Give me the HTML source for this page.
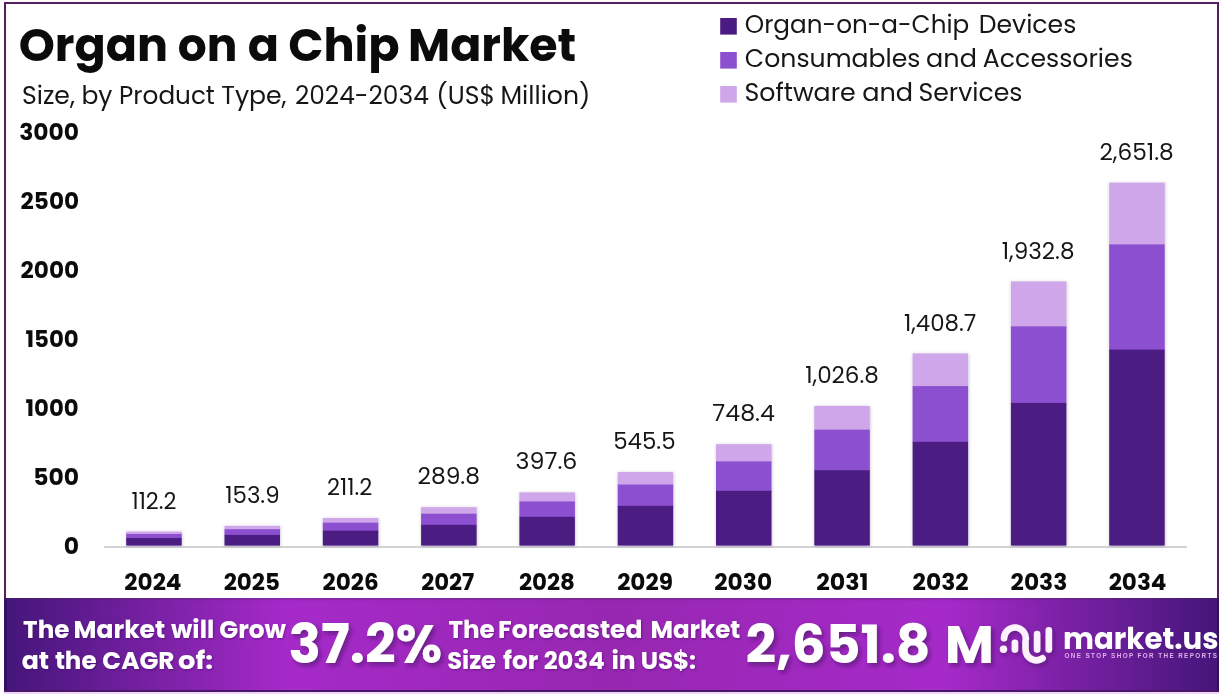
<!DOCTYPE html>
<html lang="en"><head><meta charset="utf-8"><title>Organ on a Chip Market</title>
<style>
html,body{margin:0;padding:0;background:#fff;}
body{width:1222px;height:694px;overflow:hidden;position:relative;font-family:"Liberation Sans",Arial,sans-serif;}
#frame{position:absolute;left:4px;top:2px;width:1211px;height:686.3px;border:2px solid #54205f;background:#fff;}
#footer{position:absolute;left:4px;top:597.9px;width:1215px;height:92.6px;box-shadow:inset 0 2.2px 0 rgba(70,40,90,.26);background:linear-gradient(90deg,#34105f 0,#34105f 2.6px,#45167a 2.7px,#a62ac9 23.2%,#9727b1 50%,#a62ac9 77.5%,#45167a 1212.5px,#34105f 1212.6px,#34105f 100%);}
#footer:after{content:"";position:absolute;left:0;right:0;bottom:-1.8px;height:1.9px;background:#4a1668;}
#tint{position:absolute;left:4px;top:692.3px;width:1215px;height:1.7px;background:#efd6fa;}
svg{position:absolute;left:0;top:0;}
svg text{font-family:"Liberation Sans",Arial,sans-serif;white-space:pre;}
</style></head><body>
<div id="frame"></div>
<div id="footer"></div>
<div id="tint"></div>
<svg width="1222" height="694" viewBox="0 0 1222 694">
<defs>
<filter id="bsh" x="-20%" y="-20%" width="150%" height="140%"><feDropShadow dx="0.4" dy="0.6" stdDeviation="1.8" flood-color="#4a3570" flood-opacity="0.32"/></filter>
<filter id="sh" x="-5%" y="-30%" width="110%" height="170%"><feDropShadow dx="1" dy="1.2" stdDeviation="1.2" flood-color="#3a0a5a" flood-opacity="0.45"/></filter>
<filter id="shb" x="-5%" y="-30%" width="112%" height="170%"><feDropShadow dx="2.5" dy="3" stdDeviation="2" flood-color="#3a0a5a" flood-opacity="0.55"/></filter>
<filter id="lsh" x="-20%" y="-20%" width="150%" height="150%"><feDropShadow dx="2" dy="2.5" stdDeviation="2" flood-color="#3a0a5a" flood-opacity="0.5"/></filter>
</defs>
<rect x="104.2" y="546.0" width="1082.8" height="2" fill="#d3d3d5"/>
<g filter="url(#bsh)">
<rect x="126.20" y="531.58" width="55.50" height="2.88" fill="#cfa6ea"/>
<rect x="126.20" y="533.97" width="55.50" height="4.56" fill="#8b4fcf"/>
<rect x="126.20" y="538.03" width="55.50" height="7.57" fill="#4b1a82"/>
</g>
<g filter="url(#bsh)">
<rect x="224.50" y="525.85" width="55.50" height="3.86" fill="#cfa6ea"/>
<rect x="224.50" y="529.21" width="55.50" height="6.23" fill="#8b4fcf"/>
<rect x="224.50" y="534.94" width="55.50" height="10.66" fill="#4b1a82"/>
</g>
<g filter="url(#bsh)">
<rect x="322.80" y="517.98" width="55.50" height="5.20" fill="#cfa6ea"/>
<rect x="322.80" y="522.68" width="55.50" height="8.51" fill="#8b4fcf"/>
<rect x="322.80" y="530.69" width="55.50" height="14.91" fill="#4b1a82"/>
</g>
<g filter="url(#bsh)">
<rect x="421.10" y="507.18" width="55.50" height="7.03" fill="#cfa6ea"/>
<rect x="421.10" y="513.71" width="55.50" height="11.64" fill="#8b4fcf"/>
<rect x="421.10" y="524.85" width="55.50" height="20.75" fill="#4b1a82"/>
</g>
<g filter="url(#bsh)">
<rect x="519.40" y="492.37" width="55.50" height="9.55" fill="#cfa6ea"/>
<rect x="519.40" y="501.42" width="55.50" height="15.94" fill="#8b4fcf"/>
<rect x="519.40" y="516.86" width="55.50" height="28.74" fill="#4b1a82"/>
</g>
<g filter="url(#bsh)">
<rect x="617.70" y="472.05" width="55.50" height="13.00" fill="#cfa6ea"/>
<rect x="617.70" y="484.55" width="55.50" height="21.83" fill="#8b4fcf"/>
<rect x="617.70" y="505.88" width="55.50" height="39.72" fill="#4b1a82"/>
</g>
<g filter="url(#bsh)">
<rect x="716.00" y="444.17" width="55.50" height="17.74" fill="#cfa6ea"/>
<rect x="716.00" y="461.41" width="55.50" height="29.91" fill="#8b4fcf"/>
<rect x="716.00" y="490.83" width="55.50" height="54.77" fill="#4b1a82"/>
</g>
<g filter="url(#bsh)">
<rect x="814.30" y="405.92" width="55.50" height="24.25" fill="#cfa6ea"/>
<rect x="814.30" y="429.66" width="55.50" height="41.01" fill="#8b4fcf"/>
<rect x="814.30" y="470.17" width="55.50" height="75.43" fill="#4b1a82"/>
</g>
<g filter="url(#bsh)">
<rect x="912.60" y="353.44" width="55.50" height="33.17" fill="#cfa6ea"/>
<rect x="912.60" y="386.11" width="55.50" height="56.23" fill="#8b4fcf"/>
<rect x="912.60" y="441.84" width="55.50" height="103.76" fill="#4b1a82"/>
</g>
<g filter="url(#bsh)">
<rect x="1010.90" y="281.43" width="55.50" height="45.41" fill="#cfa6ea"/>
<rect x="1010.90" y="326.34" width="55.50" height="77.11" fill="#8b4fcf"/>
<rect x="1010.90" y="402.95" width="55.50" height="142.65" fill="#4b1a82"/>
</g>
<g filter="url(#bsh)">
<rect x="1109.20" y="182.64" width="55.50" height="62.20" fill="#cfa6ea"/>
<rect x="1109.20" y="244.35" width="55.50" height="105.76" fill="#8b4fcf"/>
<rect x="1109.20" y="349.60" width="55.50" height="196.00" fill="#4b1a82"/>
</g>
<rect x="720.2" y="18.0" width="16.6" height="16.6" fill="#4b1a82"/>
<rect x="720.2" y="52.0" width="16.6" height="16.6" fill="#8b4fcf"/>
<rect x="720.2" y="86.0" width="16.6" height="16.6" fill="#cfa6ea"/>
<g id="logo" filter="url(#lsh)" fill="none" stroke="#fdf1ff" stroke-width="6.6" stroke-linecap="round" stroke-linejoin="round">
<path d="M1004.0 638.3 A10.9 10.9 0 1 1 1025.5 640.9 V649.3 A10.9 10.9 0 0 0 1042.6 658.3"/>
<path d="M1014.9 642.7 V649.6"/>
<path d="M1037.1 634.0 V649.6"/>
<path d="M1048.8 630.4 V649.6"/>
<circle cx="1003.5" cy="649.3" r="3.7" fill="#fdf1ff" stroke="none"/>
</g>
<text transform="translate(18.59 60.90) scale(1.0779 1)" font-size="47.15" font-weight="700" fill="#0b0b0b" stroke="#0b0b0b" stroke-width="0.70" stroke-linejoin="round">Organ </text>
<text transform="translate(177.31 60.90) scale(1.0401 1)" font-size="47.15" font-weight="700" fill="#0b0b0b" stroke="#0b0b0b" stroke-width="0.70" stroke-linejoin="round">on </text>
<text transform="translate(247.82 60.90) scale(1.0463 1)" font-size="47.15" font-weight="700" fill="#0b0b0b" stroke="#0b0b0b" stroke-width="0.70" stroke-linejoin="round">a </text>
<text transform="translate(288.11 60.90) scale(1.0689 1)" font-size="47.15" font-weight="700" fill="#0b0b0b" stroke="#0b0b0b" stroke-width="0.70" stroke-linejoin="round">Chip </text>
<text transform="translate(408.05 60.90) scale(1.0962 1)" font-size="47.15" font-weight="700" fill="#0b0b0b" stroke="#0b0b0b" stroke-width="0.70" stroke-linejoin="round">Market</text>
<text transform="translate(22.46 103.50) scale(0.9456 1)" font-size="25.52" font-weight="400" fill="#161616" stroke="#161616" stroke-width="0.25" stroke-linejoin="round">Size, </text>
<text transform="translate(81.73 103.50) scale(1.1229 1)" font-size="25.52" font-weight="400" fill="#161616" stroke="#161616" stroke-width="0.25" stroke-linejoin="round">by </text>
<text transform="translate(118.88 103.50) scale(1.0826 1)" font-size="25.52" font-weight="400" fill="#161616" stroke="#161616" stroke-width="0.25" stroke-linejoin="round">Product </text>
<text transform="translate(221.69 103.50) scale(1.0662 1)" font-size="25.52" font-weight="400" fill="#161616" stroke="#161616" stroke-width="0.25" stroke-linejoin="round">Type, </text>
<text transform="translate(294.75 103.50) scale(1.0998 1)" font-size="25.52" font-weight="400" fill="#161616" stroke="#161616" stroke-width="0.25" stroke-linejoin="round">2024-2034 </text>
<text transform="translate(437.52 103.50) scale(0.9521 1)" font-size="25.52" font-weight="400" fill="#161616" stroke="#161616" stroke-width="0.25" stroke-linejoin="round">(US$ </text>
<text transform="translate(500.19 103.50) scale(1.1014 1)" font-size="25.52" font-weight="400" fill="#161616" stroke="#161616" stroke-width="0.25" stroke-linejoin="round">Million)</text>
<text transform="translate(744.50 33.10) scale(1.1604 1)" font-size="25.83" font-weight="400" fill="#161616" stroke="#161616" stroke-width="0.25" stroke-linejoin="round">Organ-on-a-Chip </text>
<text transform="translate(978.61 33.10) scale(1.0602 1)" font-size="25.83" font-weight="400" fill="#161616" stroke="#161616" stroke-width="0.25" stroke-linejoin="round">Devices</text>
<text transform="translate(744.62 67.40) scale(1.1127 1)" font-size="25.83" font-weight="400" fill="#161616" stroke="#161616" stroke-width="0.25" stroke-linejoin="round">Consumables </text>
<text transform="translate(925.82 67.40) scale(1.1880 1)" font-size="25.83" font-weight="400" fill="#161616" stroke="#161616" stroke-width="0.25" stroke-linejoin="round">and </text>
<text transform="translate(983.74 67.40) scale(1.0660 1)" font-size="25.83" font-weight="400" fill="#161616" stroke="#161616" stroke-width="0.25" stroke-linejoin="round">Accessories</text>
<text transform="translate(744.73 101.20) scale(1.0896 1)" font-size="25.83" font-weight="400" fill="#161616" stroke="#161616" stroke-width="0.25" stroke-linejoin="round">Software </text>
<text transform="translate(862.12 101.20) scale(1.1798 1)" font-size="25.83" font-weight="400" fill="#161616" stroke="#161616" stroke-width="0.25" stroke-linejoin="round">and </text>
<text transform="translate(918.83 101.20) scale(1.0406 1)" font-size="25.83" font-weight="400" fill="#161616" stroke="#161616" stroke-width="0.25" stroke-linejoin="round">Services</text>
<text transform="translate(20.17 139.50) scale(1.0766 1)" font-size="24.48" font-weight="700" fill="#0b0b0b" stroke="#0b0b0b" stroke-width="0.50" stroke-linejoin="round">3000</text>
<text transform="translate(20.86 208.50) scale(1.0625 1)" font-size="24.48" font-weight="700" fill="#0b0b0b" stroke="#0b0b0b" stroke-width="0.50" stroke-linejoin="round">2500</text>
<text transform="translate(20.86 277.50) scale(1.0625 1)" font-size="24.48" font-weight="700" fill="#0b0b0b" stroke="#0b0b0b" stroke-width="0.50" stroke-linejoin="round">2000</text>
<text transform="translate(24.96 346.50) scale(0.9828 1)" font-size="24.48" font-weight="700" fill="#0b0b0b" stroke="#0b0b0b" stroke-width="0.50" stroke-linejoin="round">1500</text>
<text transform="translate(24.96 415.50) scale(0.9828 1)" font-size="24.48" font-weight="700" fill="#0b0b0b" stroke="#0b0b0b" stroke-width="0.50" stroke-linejoin="round">1000</text>
<text transform="translate(34.59 484.50) scale(1.0844 1)" font-size="24.48" font-weight="700" fill="#0b0b0b" stroke="#0b0b0b" stroke-width="0.50" stroke-linejoin="round">500</text>
<text transform="translate(63.91 553.50) scale(1.0882 1)" font-size="24.48" font-weight="700" fill="#0b0b0b" stroke="#0b0b0b" stroke-width="0.50" stroke-linejoin="round">0</text>
<text transform="translate(124.76 589.60) scale(1.0118 1)" font-size="24.69" font-weight="700" fill="#0b0b0b" stroke="#0b0b0b" stroke-width="0.50" stroke-linejoin="round">2024</text>
<text transform="translate(223.99 589.60) scale(1.0054 1)" font-size="24.69" font-weight="700" fill="#0b0b0b" stroke="#0b0b0b" stroke-width="0.50" stroke-linejoin="round">2025</text>
<text transform="translate(322.97 589.60) scale(1.0023 1)" font-size="24.69" font-weight="700" fill="#0b0b0b" stroke="#0b0b0b" stroke-width="0.50" stroke-linejoin="round">2026</text>
<text transform="translate(421.40 589.60) scale(0.9660 1)" font-size="24.69" font-weight="700" fill="#0b0b0b" stroke="#0b0b0b" stroke-width="0.50" stroke-linejoin="round">2027</text>
<text transform="translate(519.16 589.60) scale(1.0075 1)" font-size="24.69" font-weight="700" fill="#0b0b0b" stroke="#0b0b0b" stroke-width="0.50" stroke-linejoin="round">2028</text>
<text transform="translate(617.31 589.60) scale(1.0122 1)" font-size="24.69" font-weight="700" fill="#0b0b0b" stroke="#0b0b0b" stroke-width="0.50" stroke-linejoin="round">2029</text>
<text transform="translate(714.74 589.60) scale(1.0392 1)" font-size="24.69" font-weight="700" fill="#0b0b0b" stroke="#0b0b0b" stroke-width="0.50" stroke-linejoin="round">2030</text>
<text transform="translate(816.62 589.60) scale(0.9215 1)" font-size="24.69" font-weight="700" fill="#0b0b0b" stroke="#0b0b0b" stroke-width="0.50" stroke-linejoin="round">2031</text>
<text transform="translate(912.96 589.60) scale(1.0151 1)" font-size="24.69" font-weight="700" fill="#0b0b0b" stroke="#0b0b0b" stroke-width="0.50" stroke-linejoin="round">2032</text>
<text transform="translate(1010.95 589.60) scale(1.0177 1)" font-size="24.69" font-weight="700" fill="#0b0b0b" stroke="#0b0b0b" stroke-width="0.50" stroke-linejoin="round">2033</text>
<text transform="translate(1108.89 589.60) scale(1.0275 1)" font-size="24.69" font-weight="700" fill="#0b0b0b" stroke="#0b0b0b" stroke-width="0.50" stroke-linejoin="round">2034</text>
<text transform="translate(130.89 508.68) scale(0.7659 1)" font-size="24.37" font-weight="400" fill="#161616" stroke="#161616" stroke-width="0.20" stroke-linejoin="round">112.2</text>
<text transform="translate(224.37 502.95) scale(0.8974 1)" font-size="24.37" font-weight="400" fill="#161616" stroke="#161616" stroke-width="0.20" stroke-linejoin="round">153.9</text>
<text transform="translate(327.31 495.08) scale(0.7556 1)" font-size="24.37" font-weight="400" fill="#161616" stroke="#161616" stroke-width="0.20" stroke-linejoin="round">211.2</text>
<text transform="translate(417.61 484.28) scale(1.0171 1)" font-size="24.37" font-weight="400" fill="#161616" stroke="#161616" stroke-width="0.20" stroke-linejoin="round">289.8</text>
<text transform="translate(515.94 469.47) scale(1.0012 1)" font-size="24.37" font-weight="400" fill="#161616" stroke="#161616" stroke-width="0.20" stroke-linejoin="round">397.6</text>
<text transform="translate(614.09 449.15) scale(0.9970 1)" font-size="24.37" font-weight="400" fill="#161616" stroke="#161616" stroke-width="0.20" stroke-linejoin="round">545.5</text>
<text transform="translate(711.87 421.27) scale(1.0342 1)" font-size="24.37" font-weight="400" fill="#161616" stroke="#161616" stroke-width="0.20" stroke-linejoin="round">748.4</text>
<text transform="translate(804.31 383.02) scale(0.9090 1)" font-size="24.37" font-weight="400" fill="#161616" stroke="#161616" stroke-width="0.20" stroke-linejoin="round">1,026.8</text>
<text transform="translate(903.34 330.54) scale(0.8992 1)" font-size="24.37" font-weight="400" fill="#161616" stroke="#161616" stroke-width="0.20" stroke-linejoin="round">1,408.7</text>
<text transform="translate(1001.05 258.53) scale(0.8993 1)" font-size="24.37" font-weight="400" fill="#161616" stroke="#161616" stroke-width="0.20" stroke-linejoin="round">1,932.8</text>
<text transform="translate(1099.53 159.74) scale(0.9069 1)" font-size="24.37" font-weight="400" fill="#161616" stroke="#161616" stroke-width="0.20" stroke-linejoin="round">2,651.8</text>
<text transform="translate(23.75 638.30) scale(1.0117 1)" font-size="25.32" font-weight="700" fill="#ffffff" stroke="#ffffff" stroke-width="0.80" stroke-linejoin="round" filter="url(#sh)">The </text>
<text transform="translate(73.61 638.30) scale(1.1118 1)" font-size="25.32" font-weight="700" fill="#ffffff" stroke="#ffffff" stroke-width="0.80" stroke-linejoin="round" filter="url(#sh)">Market </text>
<text transform="translate(171.61 638.30) scale(1.0410 1)" font-size="25.32" font-weight="700" fill="#ffffff" stroke="#ffffff" stroke-width="0.80" stroke-linejoin="round" filter="url(#sh)">will </text>
<text transform="translate(219.39 638.30) scale(1.0177 1)" font-size="25.32" font-weight="700" fill="#ffffff" stroke="#ffffff" stroke-width="0.80" stroke-linejoin="round" filter="url(#sh)">Grow</text>
<text transform="translate(21.89 668.50) scale(1.1579 1)" font-size="25.32" font-weight="700" fill="#ffffff" stroke="#ffffff" stroke-width="0.80" stroke-linejoin="round" filter="url(#sh)">at </text>
<text transform="translate(55.34 668.50) scale(1.0785 1)" font-size="25.32" font-weight="700" fill="#ffffff" stroke="#ffffff" stroke-width="0.80" stroke-linejoin="round" filter="url(#sh)">the </text>
<text transform="translate(102.65 668.50) scale(0.9489 1)" font-size="25.32" font-weight="700" fill="#ffffff" stroke="#ffffff" stroke-width="0.80" stroke-linejoin="round" filter="url(#sh)">CAGR </text>
<text transform="translate(178.19 668.50) scale(1.1048 1)" font-size="25.32" font-weight="700" fill="#ffffff" stroke="#ffffff" stroke-width="0.80" stroke-linejoin="round" filter="url(#sh)">of:</text>
<text transform="translate(290.34 663.40) scale(0.9399 1)" font-size="56.65" font-weight="700" fill="#ffffff" stroke="#ffffff" stroke-width="1.60" stroke-linejoin="round" filter="url(#shb)">37.2%</text>
<text transform="translate(449.01 638.30) scale(1.0064 1)" font-size="25.32" font-weight="700" fill="#ffffff" stroke="#ffffff" stroke-width="0.80" stroke-linejoin="round" filter="url(#sh)">The </text>
<text transform="translate(498.13 638.30) scale(1.0678 1)" font-size="25.32" font-weight="700" fill="#ffffff" stroke="#ffffff" stroke-width="0.80" stroke-linejoin="round" filter="url(#sh)">Forecasted </text>
<text transform="translate(650.50 638.30) scale(1.0893 1)" font-size="25.32" font-weight="700" fill="#ffffff" stroke="#ffffff" stroke-width="0.80" stroke-linejoin="round" filter="url(#sh)">Market</text>
<text transform="translate(447.90 668.50) scale(0.9470 1)" font-size="25.32" font-weight="700" fill="#ffffff" stroke="#ffffff" stroke-width="0.80" stroke-linejoin="round" filter="url(#sh)">Size </text>
<text transform="translate(503.56 668.50) scale(1.0087 1)" font-size="25.32" font-weight="700" fill="#ffffff" stroke="#ffffff" stroke-width="0.80" stroke-linejoin="round" filter="url(#sh)">for </text>
<text transform="translate(544.05 668.50) scale(1.0496 1)" font-size="25.32" font-weight="700" fill="#ffffff" stroke="#ffffff" stroke-width="0.80" stroke-linejoin="round" filter="url(#sh)">2034 </text>
<text transform="translate(611.02 668.50) scale(1.0765 1)" font-size="25.32" font-weight="700" fill="#ffffff" stroke="#ffffff" stroke-width="0.80" stroke-linejoin="round" filter="url(#sh)">in </text>
<text transform="translate(641.14 668.50) scale(0.9724 1)" font-size="25.32" font-weight="700" fill="#ffffff" stroke="#ffffff" stroke-width="0.80" stroke-linejoin="round" filter="url(#sh)">US$:</text>
<text transform="translate(746.51 663.00) scale(0.9655 1)" font-size="56.55" font-weight="700" fill="#ffffff" stroke="#ffffff" stroke-width="1.60" stroke-linejoin="round" filter="url(#shb)">2,651.8 </text>
<text transform="translate(944.98 663.00) scale(1.0357 1)" font-size="56.55" font-weight="700" fill="#ffffff" stroke="#ffffff" stroke-width="1.60" stroke-linejoin="round" filter="url(#shb)">M</text>
<text transform="translate(1062.86 649.00) scale(1.1231 1)" font-size="29.30" font-weight="700" fill="#ffffff" stroke="#ffffff" stroke-width="0.60" stroke-linejoin="round">market.us</text>
<text transform="translate(1064.48 658.20) scale(1.0000 1)" font-size="6.30" font-weight="700" fill="#e2aeee" letter-spacing="1.397">ONE STOP SHOP FOR THE REPORTS</text>
</svg>
<script>
(function(){try{
var c=document.createElement('canvas').getContext('2d'),s='Organ Market 1,026.8 mwiQ';
function m(f){c.font='700 64px '+f;return c.measureText(s).width}
var a=m('Poppins,monospace'),b=m('monospace'),d=m('Poppins,serif'),e=m('serif');
if(Math.abs(a-b)<1||Math.abs(d-e)<1||Math.abs(a-d)>1)return;
var P=[[18.71,60.90,46.00,0.9999],[177.67,60.90,46.00,0.9887],[247.65,60.90,46.00,1.0001],[288.25,60.90,46.00,1.0044],[408.09,60.90,46.00,0.9973],[21.94,103.50,24.90,1.0101],[81.48,103.50,24.90,1.0040],[119.06,103.50,24.90,0.9920],[221.29,103.50,24.90,1.0097],[294.90,103.50,24.90,1.0000],[436.28,103.50,24.90,1.0106],[500.47,103.50,24.90,1.0102],[744.75,33.10,25.20,0.9800],[978.73,33.10,25.20,0.9983],[744.78,67.40,25.20,0.9986],[926.12,67.40,25.20,1.0118],[982.86,67.40,25.20,0.9997],[744.45,101.20,25.20,1.0021],[862.14,101.20,25.20,1.0151],[918.38,101.20,25.20,0.9987],[19.16,139.50,23.20,1.0079],[20.62,208.50,23.20,0.9990],[20.62,277.50,23.20,0.9990],[25.48,346.50,23.20,0.9866],[25.49,415.50,23.20,0.9833],[33.17,484.50,23.20,1.0120],[63.69,553.50,23.20,1.0112],[124.35,589.60,23.40,0.9889],[223.63,589.60,23.40,0.9836],[322.60,589.60,23.40,0.9882],[421.14,589.60,23.40,0.9755],[518.93,589.60,23.40,0.9814],[617.13,589.60,23.40,0.9912],[714.32,589.60,23.40,0.9963],[816.26,589.60,23.40,1.0144],[912.57,589.60,23.40,0.9985],[1010.58,589.60,23.40,0.9972],[1108.65,589.60,23.40,0.9871],[131.51,508.68,23.10,0.9719],[225.23,502.95,23.10,0.9899],[327.06,495.08,23.10,0.9805],[417.52,484.28,23.10,1.0099],[515.61,469.47,23.10,1.0255],[613.27,449.15,23.10,0.9898],[712.34,421.27,23.10,1.0245],[805.21,383.02,23.10,0.9981],[904.03,330.54,23.10,0.9896],[1001.73,258.53,23.10,0.9997],[1099.53,159.74,23.10,1.0049],[23.10,638.30,24.70,0.9977],[73.53,638.30,24.70,1.0126],[171.04,638.30,24.70,0.9975],[219.34,638.30,24.70,1.0017],[21.71,668.50,24.70,1.0179],[54.90,668.50,24.70,0.9928],[102.31,668.50,24.70,1.0024],[178.06,668.50,24.70,1.1025],[288.52,663.40,53.70,1.0006],[448.38,638.30,24.70,0.9964],[498.05,638.30,24.70,1.0136],[650.40,638.30,24.70,0.9930],[447.15,668.50,24.70,0.9782],[503.02,668.50,24.70,1.0025],[543.63,668.50,24.70,0.9872],[611.40,668.50,24.70,1.0060],[640.66,668.50,24.70,0.9923],[745.61,663.00,53.60,1.0000],[944.64,663.00,53.60,1.0008],[1063.02,649.00,29.30,0.9982],0],T=document.querySelectorAll('svg text');
if(T.length!==P.length)return;
for(var i=0;i<T.length;i++){var p=P[i];if(!p)continue;var t=T[i];
t.textContent=t.textContent;
t.style.fontFamily='Poppins,"Liberation Sans",sans-serif';
t.removeAttribute('stroke');t.removeAttribute('stroke-width');
t.setAttribute('font-size',p[2]);
t.setAttribute('transform','translate('+p[0]+' '+p[1]+') scale('+p[3]+' 1)');}
}catch(x){}})();
</script>
</body></html>
